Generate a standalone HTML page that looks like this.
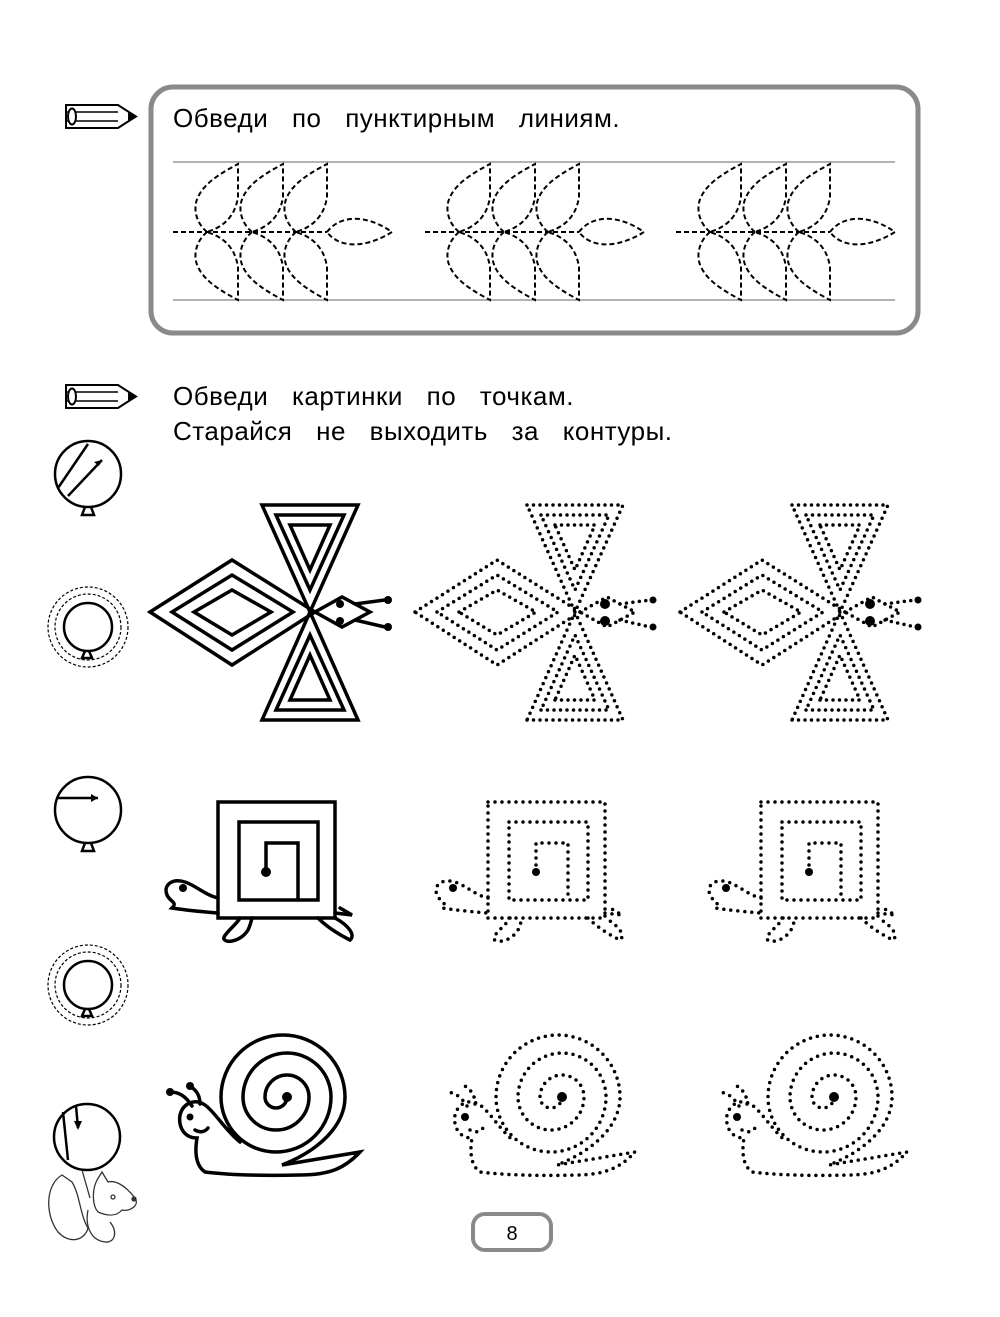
<!DOCTYPE html>
<html><head><meta charset="utf-8"><style>
html,body{margin:0;padding:0;background:#fff;}
body{width:1000px;height:1312px;overflow:hidden;font-family:"Liberation Sans",sans-serif;}
</style></head><body>
<svg width="1000" height="1312" viewBox="0 0 1000 1312" xmlns="http://www.w3.org/2000/svg">
<defs>
 <g id="pencil">
  <path d="M0,0 h52 l18,11.5 l-18,11.5 h-52 z" fill="#fff" stroke="#000" stroke-width="2"/>
  <line x1="0" y1="7" x2="52" y2="7" stroke="#000" stroke-width="1.5"/>
  <line x1="0" y1="16" x2="52" y2="16" stroke="#000" stroke-width="1.5"/>
  <path d="M62,6 l8,5.5 l-8,5.5 z" fill="#000"/>
  <ellipse cx="6" cy="11.5" rx="4" ry="8" fill="#fff" stroke="#000" stroke-width="2"/>
 </g>
 <g id="branch" fill="none">
  <line x1="0" y1="70" x2="154" y2="70"/>
  <path d="M154,70 C165,55 190,50 219,70 C190,88 165,85 154,70"/>
  <g id="stemset">
   <path d="M34,70 C22,60 20,45 25,35 C32,20 50,10 65,2 L65,35 C62,55 50,65 34,70"/>
   <path d="M34,70 C22,80 20,95 25,105 C32,120 50,130 65,138 L65,105 C62,85 50,75 34,70"/>
  </g>
  <use href="#stemset" x="45"/>
  <use href="#stemset" x="89"/>
 </g>
 <g id="fly">
  <polygon points="150,612 232,560 315,612 232,665"/>
  <polygon points="172,612 232,575 293,612 232,650"/>
  <polygon points="194,612 232,590 271,612 232,635"/>
  <polygon points="262,505 358,505 310,612"/>
  <polygon points="276,515 344,515 310,590"/>
  <polygon points="290,525 330,525 310,570"/>
  <polygon points="262,720 358,720 310,612"/>
  <polygon points="276,710 344,710 310,635"/>
  <polygon points="290,700 330,700 310,655"/>
  <polygon points="315,612 342,597 370,612 342,627"/>
  <path d="M355,604 L385,600 M355,620 L385,627"/>
 </g>
 <g id="turtle">
  <rect x="218" y="802" width="117" height="116"/>
  <rect x="239" y="822" width="79" height="78"/>
  <path d="M266,872 V843 H298 V900"/>
  <path d="M218,898 C205,895 195,885 185,882 C172,878 163,885 167,895 C170,902 178,902 172,908 C185,910 205,912 218,913"/>
  <path d="M240,918 C236,925 228,930 224,937 C222,944 240,943 248,930 C250,926 251,922 252,918"/>
  <path d="M318,918 C328,928 340,935 350,940 C356,935 348,925 335,918"/>
  <path d="M335,913 L352,915 L340,908"/>
 </g>
 <g id="snail">
  <path d="M287,1097 A11,11 0 0 1 265,1097 A22,22 0 0 1 309,1097 A33,33 0 0 1 243,1097 A44,44 0 0 1 331,1097 A55,55 0 0 1 221,1097 A62,62 0 0 1 345,1097 C345,1125 320,1150 282,1165 L360,1152 C345,1168 330,1175 300,1175 C260,1176 230,1175 205,1172 C195,1165 195,1150 197,1138 C185,1138 178,1128 180,1115 C183,1103 195,1098 205,1105 C215,1112 225,1130 240,1142"/>
  <path d="M192,1106 C185,1095 178,1092 170,1092 M200,1104 C200,1095 196,1090 190,1086"/>
  <path d="M195,1130 C200,1133 205,1132 208,1128"/>
 </g>
</defs>

<use href="#pencil" x="66" y="105"/>
<rect x="151" y="87" width="767" height="246" rx="22" fill="none" stroke="#8a8a8a" stroke-width="5"/>
<text x="173" y="127" font-size="26" letter-spacing="0.5" word-spacing="16" fill="#000">Обведи по пунктирным линиям.</text>
<line x1="173" y1="162" x2="895" y2="162" stroke="#999" stroke-width="1.5"/>
<line x1="173" y1="300" x2="895" y2="300" stroke="#999" stroke-width="1.5"/>
<g stroke="#000" stroke-width="2" stroke-dasharray="5 3">
 <use href="#branch" x="173" y="162"/>
 <use href="#branch" x="425" y="162"/>
 <use href="#branch" x="676" y="162"/>
</g>

<use href="#pencil" x="66" y="385"/>
<text x="173" y="405" font-size="26" letter-spacing="0.5" word-spacing="16" fill="#000">Обведи картинки по точкам.</text>
<text x="173" y="440" font-size="26" letter-spacing="0.5" word-spacing="16" fill="#000">Старайся не выходить за контуры.</text>

<g fill="none" stroke="#000" stroke-width="2.5">
 <circle cx="88" cy="474" r="33"/>
 <path d="M85,507 l-3,8 h12 l-3,-8"/>
 <line x1="58" y1="488" x2="88" y2="444"/><line x1="68" y1="496" x2="102" y2="460"/>
 <circle cx="88" cy="627" r="24"/>
 <circle cx="88" cy="627" r="33" stroke-width="1.2" stroke-dasharray="3 2"/>
 <circle cx="88" cy="627" r="40" stroke-width="1.2" stroke-dasharray="3 2"/>
 <path d="M85,651 l-3,7 h10 l-3,-7"/>
 <circle cx="88" cy="810" r="33"/>
 <line x1="57" y1="798" x2="98" y2="798"/>
 <path d="M85,843 l-3,8 h12 l-3,-8"/>
 <circle cx="88" cy="985" r="24"/>
 <circle cx="88" cy="985" r="33" stroke-width="1.2" stroke-dasharray="3 2"/>
 <circle cx="88" cy="985" r="40" stroke-width="1.2" stroke-dasharray="3 2"/>
 <path d="M85,1009 l-3,7 h10 l-3,-7"/>
 <circle cx="87" cy="1137" r="33"/>
 <line x1="63" y1="1112" x2="68" y2="1160"/><line x1="76" y1="1106" x2="78" y2="1128"/>
</g>
<g fill="none" stroke="#333" stroke-width="1.3">
 <path d="M82,1170 L90,1198"/>
 <path d="M62,1175 C45,1185 45,1215 58,1232 C70,1245 85,1240 88,1228 C80,1215 80,1195 72,1182 Z"/>
 <path d="M97,1180 L102,1172 L108,1182 C115,1180 125,1185 135,1198 C140,1205 130,1212 122,1210 C115,1218 105,1215 98,1212 C92,1205 92,1190 97,1180 Z"/>
 <path d="M88,1210 C85,1225 90,1240 105,1242 C115,1243 118,1232 110,1222"/>
 <circle cx="113" cy="1197" r="2"/><circle cx="134" cy="1199" r="2" fill="#333"/>
</g>
<g fill="#000"><path d="M102,460 l-8,2 l5,4 z"/><path d="M98,798 l-7,-4 v8 z"/><path d="M78,1130 l-4,-9 h8 z"/></g>

<g fill="none" stroke="#000" stroke-width="3.5"><use href="#fly"/></g>
<g fill="#000"><circle cx="340" cy="604" r="4"/><circle cx="340" cy="621" r="4"/><circle cx="388" cy="600" r="4"/><circle cx="388" cy="627" r="4"/></g>
<g fill="none" stroke="#000" stroke-width="3.5" stroke-dasharray="0 6.5" stroke-linecap="round">
 <use href="#fly" x="265"/><use href="#fly" x="530"/>
</g>
<g fill="#000">
 <circle cx="605" cy="604" r="5"/><circle cx="605" cy="621" r="5"/><circle cx="653" cy="600" r="3.5"/><circle cx="653" cy="627" r="3.5"/>
 <circle cx="870" cy="604" r="5"/><circle cx="870" cy="621" r="5"/><circle cx="918" cy="600" r="3.5"/><circle cx="918" cy="627" r="3.5"/>
</g>

<g fill="none" stroke="#000" stroke-width="3.5" stroke-linecap="round"><use href="#turtle"/></g>
<g fill="none" stroke="#000" stroke-width="3.5" stroke-dasharray="0 7" stroke-linecap="round">
 <use href="#turtle" x="270"/><use href="#turtle" x="543"/>
</g>
<g fill="#000"><circle cx="266" cy="872" r="5"/><circle cx="183" cy="888" r="4"/>
 <circle cx="536" cy="872" r="4"/><circle cx="453" cy="888" r="4"/>
 <circle cx="809" cy="872" r="4"/><circle cx="726" cy="888" r="4"/></g>

<g fill="none" stroke="#000" stroke-width="3.5" stroke-linecap="round"><use href="#snail"/></g>
<g fill="none" stroke="#000" stroke-width="3.5" stroke-dasharray="0 7" stroke-linecap="round">
 <use href="#snail" x="275"/><use href="#snail" x="547"/>
</g>
<g fill="#000"><circle cx="287" cy="1097" r="5"/><circle cx="170" cy="1092" r="4"/><circle cx="190" cy="1086" r="4"/><circle cx="190" cy="1117" r="3.5"/>
 <circle cx="562" cy="1097" r="5"/><circle cx="465" cy="1117" r="4"/>
 <circle cx="834" cy="1097" r="5"/><circle cx="737" cy="1117" r="4"/></g>

<rect x="473" y="1214" width="78" height="36" rx="12" fill="none" stroke="#8a8a8a" stroke-width="4"/>
<text x="512" y="1240" font-size="20" text-anchor="middle">8</text>
</svg>
</body></html>
